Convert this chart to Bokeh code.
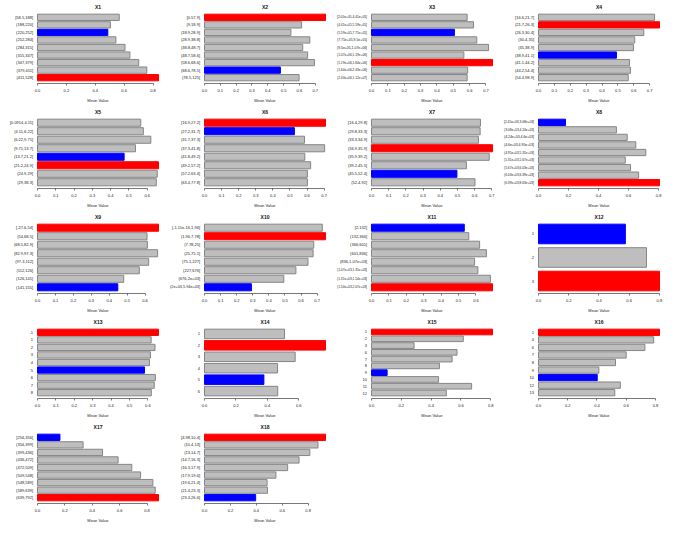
from bokeh.plotting import figure
from bokeh.layouts import gridplot
from bokeh.models import Range1d, FixedTicker, NumeralTickFormatter, ColumnDataSource, Title
from bokeh.core.properties import value
from bokeh.embed import file_html
from bokeh.resources import INLINE

# ---------------- data ----------------
panel_names = ["X1", "X2", "X3", "X4", "X5", "X6", "X7", "X8", "X9",
               "X10", "X11", "X12", "X13", "X14", "X15", "X16", "X17", "X18"]

x1_labels = ["[58.5,188]", "(188,220]", "(220,252]", "(252,284]", "(284,315]",
             "(315,347]", "(347,379]", "(379,411]", "(411,528]"]
x1_values = [0.566, 0.505, 0.487, 0.543, 0.606, 0.640, 0.701, 0.757, 0.838]
x1_ticks = [0.0, 0.2, 0.4, 0.6, 0.8]

x2_labels = ["[0.57,9]", "(9,18.9]", "(18.9,28.9]", "(28.9,38.8]", "(38.8,48.7]",
             "(48.7,58.6]", "(58.6,68.6]", "(68.6,78.5]", "(78.5,125]"]
x2_values = [0.765, 0.614, 0.546, 0.666, 0.621, 0.652, 0.695, 0.480, 0.598]
x2_ticks = [0.0, 0.1, 0.2, 0.3, 0.4, 0.5, 0.6, 0.7]

x3_labels = ["[2.05e+05,4.41e+05]", "(4.41e+05,5.59e+05]", "(5.59e+05,7.71e+05]",
             "(7.71e+05,9.5e+05]", "(9.5e+05,1.07e+06]", "(1.07e+06,1.19e+06]",
             "(1.19e+06,1.64e+06]", "(1.64e+06,2.43e+06]", "(2.43e+06,1.12e+07]"]
x3_values = [0.585, 0.624, 0.507, 0.644, 0.716, 0.565, 0.740, 0.588, 0.585]
x3_ticks = [0.0, 0.1, 0.2, 0.3, 0.4, 0.5, 0.6, 0.7]

x4_labels = ["[16.6,21.7]", "(21.7,26.3]", "(26.3,30.4]", "(30.4,35]", "(35,38.9]",
             "(38.9,41.1]", "(41.1,44.2]", "(44.2,54.4]", "(54.4,98.9]"]
x4_values = [0.731, 0.762, 0.663, 0.606, 0.598, 0.491, 0.573, 0.579, 0.565]
x4_ticks = [0.0, 0.1, 0.2, 0.3, 0.4, 0.5, 0.6, 0.7]

x5_labels = ["[0.0914,4.11]", "(4.11,6.22]", "(6.22,9.71]", "(9.71,13.7]",
             "(13.7,21.2]", "(21.2,24.9]", "(24.9,29]", "(29,38.3]"]
x5_values = [0.565, 0.579, 0.620, 0.536, 0.474, 0.662, 0.655, 0.650]
x5_ticks = [0.0, 0.1, 0.2, 0.3, 0.4, 0.5, 0.6]

x6_labels = ["[16.9,27.2]", "(27.2,31.7]", "(31.7,37.3]", "(37.3,41.8]",
             "(41.8,49.2]", "(49.2,57.2]", "(57.2,63.4]", "(63.4,77.8]"]
x6_values = [0.708, 0.526, 0.585, 0.703, 0.587, 0.621, 0.602, 0.602]
x6_ticks = [0.0, 0.1, 0.2, 0.3, 0.4, 0.5, 0.6, 0.7]

x7_labels = ["[16.4,29.8]", "(29.8,33.3]", "(33.3,34.9]", "(34.9,35.9]",
             "(35.9,39.2]", "(39.2,45.5]", "(45.5,52.4]", "(52.4,92]"]
x7_values = [0.634, 0.632, 0.622, 0.704, 0.685, 0.552, 0.497, 0.602]
x7_ticks = [0.0, 0.1, 0.2, 0.3, 0.4, 0.5, 0.6, 0.7]

x8_labels = ["[2.45e+03,3.08e+03]", "(3.08e+03,4.24e+03]", "(4.24e+03,4.6e+03]",
             "(4.6e+03,4.95e+03]", "(4.95e+03,5.31e+03]", "(5.31e+03,5.67e+03]",
             "(5.67e+03,6.03e+03]", "(6.03e+03,6.39e+03]", "(6.39e+03,8.63e+03]"]
x8_values = [0.180, 0.519, 0.591, 0.648, 0.715, 0.578, 0.613, 0.667, 0.806]
x8_ticks = [0.0, 0.2, 0.4, 0.6, 0.8]

x9_labels = ["[-27.6,54]", "(54,68.5]", "(68.5,82.9]", "(82.9,97.3]",
             "(97.3,112]", "(112,126]", "(126,141]", "(141,155]"]
x9_values = [0.675, 0.611, 0.613, 0.670, 0.620, 0.568, 0.481, 0.448]
x9_ticks = [0.0, 0.1, 0.2, 0.3, 0.4, 0.5, 0.6]

x10_labels = ["[-1.11e-16,1.96]", "(1.96,7.78]", "(7.78,25]", "(25,75.1]",
              "(75.1,227]", "(227,676]", "(676,2e+03]", "(2e+03,5.94e+03]"]
x10_values = [0.732, 0.752, 0.679, 0.675, 0.643, 0.568, 0.493, 0.292]
x10_ticks = [0.0, 0.1, 0.2, 0.3, 0.4, 0.5, 0.6, 0.7]

x11_labels = ["[2,132]", "(132,366]", "(366,601]", "(601,836]", "(836,1.07e+03]",
              "(1.07e+03,1.31e+03]", "(1.31e+03,1.54e+03]", "(1.54e+03,2.07e+03]"]
x11_values = [0.533, 0.559, 0.621, 0.660, 0.592, 0.611, 0.683, 0.695]
x11_ticks = [0.0, 0.1, 0.2, 0.3, 0.4, 0.5, 0.6]

x12_labels = ["1", "2", "3"]
x12_values = [0.575, 0.715, 0.801]
x12_ticks = [0.0, 0.2, 0.4, 0.6, 0.8]

x13_labels = ["-1", "1", "2", "3", "4", "5", "6", "7", "8"]
x13_values = [0.658, 0.618, 0.639, 0.614, 0.609, 0.582, 0.641, 0.635, 0.619]
x13_ticks = [0.0, 0.1, 0.2, 0.3, 0.4, 0.5, 0.6]

x14_labels = ["1", "2", "3", "4", "5", "6"]
x14_values = [0.509, 0.770, 0.577, 0.465, 0.378, 0.466]
x14_ticks = [0.0, 0.2, 0.4, 0.6]

x15_labels = ["1", "2", "3", "6", "7", "8", "9", "10", "11", "12"]
x15_values = [0.812, 0.616, 0.286, 0.574, 0.541, 0.456, 0.105, 0.450, 0.672, 0.502]
x15_ticks = [0.0, 0.2, 0.4, 0.6, 0.8]

x16_labels = ["1", "4", "6", "7", "8", "9", "10", "12", "13"]
x16_values = [0.828, 0.788, 0.728, 0.600, 0.527, 0.413, 0.402, 0.560, 0.522]
x16_ticks = [0.0, 0.2, 0.4, 0.6, 0.8]

x17_labels = ["[256,356]", "(356,399]", "(399,436]", "(436,472]", "(472,509]",
              "(509,548]", "(548,589]", "(589,639]", "(639,792]"]
x17_values = [0.164, 0.333, 0.475, 0.589, 0.689, 0.753, 0.843, 0.860, 0.884]
x17_ticks = [0.0, 0.2, 0.4, 0.6, 0.8]

x18_labels = ["[4.98,10.4]", "(10.4,13]", "(13,14.7]", "(14.7,16.3]", "(16.3,17.9]",
              "(17.9,19.6]", "(19.6,21.4]", "(21.4,23.3]", "(23.3,26.6]"]
x18_values = [0.934, 0.876, 0.813, 0.730, 0.642, 0.551, 0.483, 0.486, 0.395]
x18_ticks = [0.0, 0.2, 0.4, 0.6, 0.8]

x_axis_title = "Mean Value"

panels = [
    (panel_names[0], x1_labels, x1_values, x1_ticks),
    (panel_names[1], x2_labels, x2_values, x2_ticks),
    (panel_names[2], x3_labels, x3_values, x3_ticks),
    (panel_names[3], x4_labels, x4_values, x4_ticks),
    (panel_names[4], x5_labels, x5_values, x5_ticks),
    (panel_names[5], x6_labels, x6_values, x6_ticks),
    (panel_names[6], x7_labels, x7_values, x7_ticks),
    (panel_names[7], x8_labels, x8_values, x8_ticks),
    (panel_names[8], x9_labels, x9_values, x9_ticks),
    (panel_names[9], x10_labels, x10_values, x10_ticks),
    (panel_names[10], x11_labels, x11_values, x11_ticks),
    (panel_names[11], x12_labels, x12_values, x12_ticks),
    (panel_names[12], x13_labels, x13_values, x13_ticks),
    (panel_names[13], x14_labels, x14_values, x14_ticks),
    (panel_names[14], x15_labels, x15_values, x15_ticks),
    (panel_names[15], x16_labels, x16_values, x16_ticks),
    (panel_names[16], x17_labels, x17_values, x17_ticks),
    (panel_names[17], x18_labels, x18_values, x18_ticks),
]

# ---------------- style / geometry ----------------
FONT = "Liberation Sans"
PW, PH = 167, 105
ZERO_PX = 37.0      # pixel position of value 0 inside a panel
MAX_PX = 158.0      # pixel position of the largest bar's end
MBR = 6             # right border
TOP = 9
BOTTOM = 22
LABEL_GAP = 4.5
LABEL_SIZE = 4.0

GRAY, RED, BLUE = "#BEBEBE", "#FF0000", "#0000FF"

_cw = {"X": 0.667, "M": 0.833, "V": 0.667, "e": 0.556, "a": 0.556, "n": 0.556,
       "l": 0.222, "u": 0.556, " ": 0.278, ".": 0.278, ",": 0.278, "[": 0.278,
       "]": 0.278, "(": 0.333, ")": 0.333, "+": 0.584, "-": 0.333}


def text_w(s, size):
    return sum(_cw.get(c, 0.556) for c in s) * size


def label_size(s):
    room = ZERO_PX - LABEL_GAP - 2.5
    w = text_w(s, LABEL_SIZE)
    size = LABEL_SIZE if w <= room else LABEL_SIZE * room / w
    return "%.2fpx" % size


def make_panel(name, labels, values, ticks):
    n = len(values)
    centers = [1.2 * (k + 1) - 0.5 for k in range(n)]
    span = 1.2 * n - 0.2
    y_lo = 0.2 - 0.04 * span
    y_hi = 1.2 * n + 0.04 * span
    vmax, vmin = max(values), min(values)
    fills = [RED if v == vmax else BLUE if v == vmin else GRAY for v in values]
    lines = [RED if v == vmax else BLUE if v == vmin else "#858585" for v in values]
    k = (MAX_PX - ZERO_PX) / vmax
    frame_w = PW - MBR
    x_start = -ZERO_PX / k
    x_end = (frame_w - ZERO_PX) / k

    p = figure(width=PW, height=PH, output_backend="svg", toolbar_location=None,
               x_range=Range1d(x_start, x_end), y_range=Range1d(y_hi, y_lo),
               y_axis_location=None,
               min_border_left=0, min_border_right=MBR,
               min_border_top=TOP, min_border_bottom=BOTTOM,
               outline_line_color=None, background_fill_color="white",
               border_fill_color="white")
    p.grid.visible = False

    src = ColumnDataSource(dict(y=centers, v=values, lab=labels, fill=fills,
                                line=lines, zero=[0.0] * n,
                                fs=[label_size(s) for s in labels]))
    p.hbar(y="y", left="zero", right="v", height=1.0, source=src,
           fill_color="fill", line_color="line", line_width=1)
    p.text(x="zero", y="y", text="lab", source=src, text_align="right",
           text_baseline="middle", x_offset=-LABEL_GAP, text_font=value(FONT),
           text_font_size="fs", text_color="#222222")

    ax = p.xaxis[0]
    ax.ticker = FixedTicker(ticks=ticks)
    ax.formatter = NumeralTickFormatter(format="0.0")
    ax.bounds = (ticks[0], ticks[-1])
    ax.minor_tick_line_color = None
    ax.major_tick_in = 0
    ax.major_tick_out = 2
    ax.major_label_standoff = 3
    ax.major_label_text_font = FONT
    ax.major_label_text_font_size = "4px"
    ax.major_label_text_color = "#222222"
    ax.axis_line_color = "#555555"
    ax.axis_line_width = 0.8
    ax.major_tick_line_color = "#555555"
    ax.major_tick_line_width = 0.8

    center_px = (ZERO_PX + MAX_PX) / 2
    p.title.text = name
    p.title.align = "left"
    p.title.offset = center_px - text_w(name, 5) / 2
    p.title.text_font = FONT
    p.title.text_font_size = "5px"
    p.title.text_font_style = "bold"
    p.title.text_color = "#111111"
    p.title.standoff = 3

    p.add_layout(Title(text=x_axis_title, align="left",
                       offset=center_px - text_w(x_axis_title, 4) / 2,
                       text_font=FONT, text_font_size="4px",
                       text_font_style="normal", text_color="#222222",
                       standoff=2), "below")
    return p


figs = [make_panel(*pp) for pp in panels]
rows = [figs[0:4], figs[4:8], figs[8:12], figs[12:16], figs[16:18] + [None, None]]
grid = gridplot(rows, toolbar_location=None)

open("out.html", "w").write(file_html(grid, INLINE))
